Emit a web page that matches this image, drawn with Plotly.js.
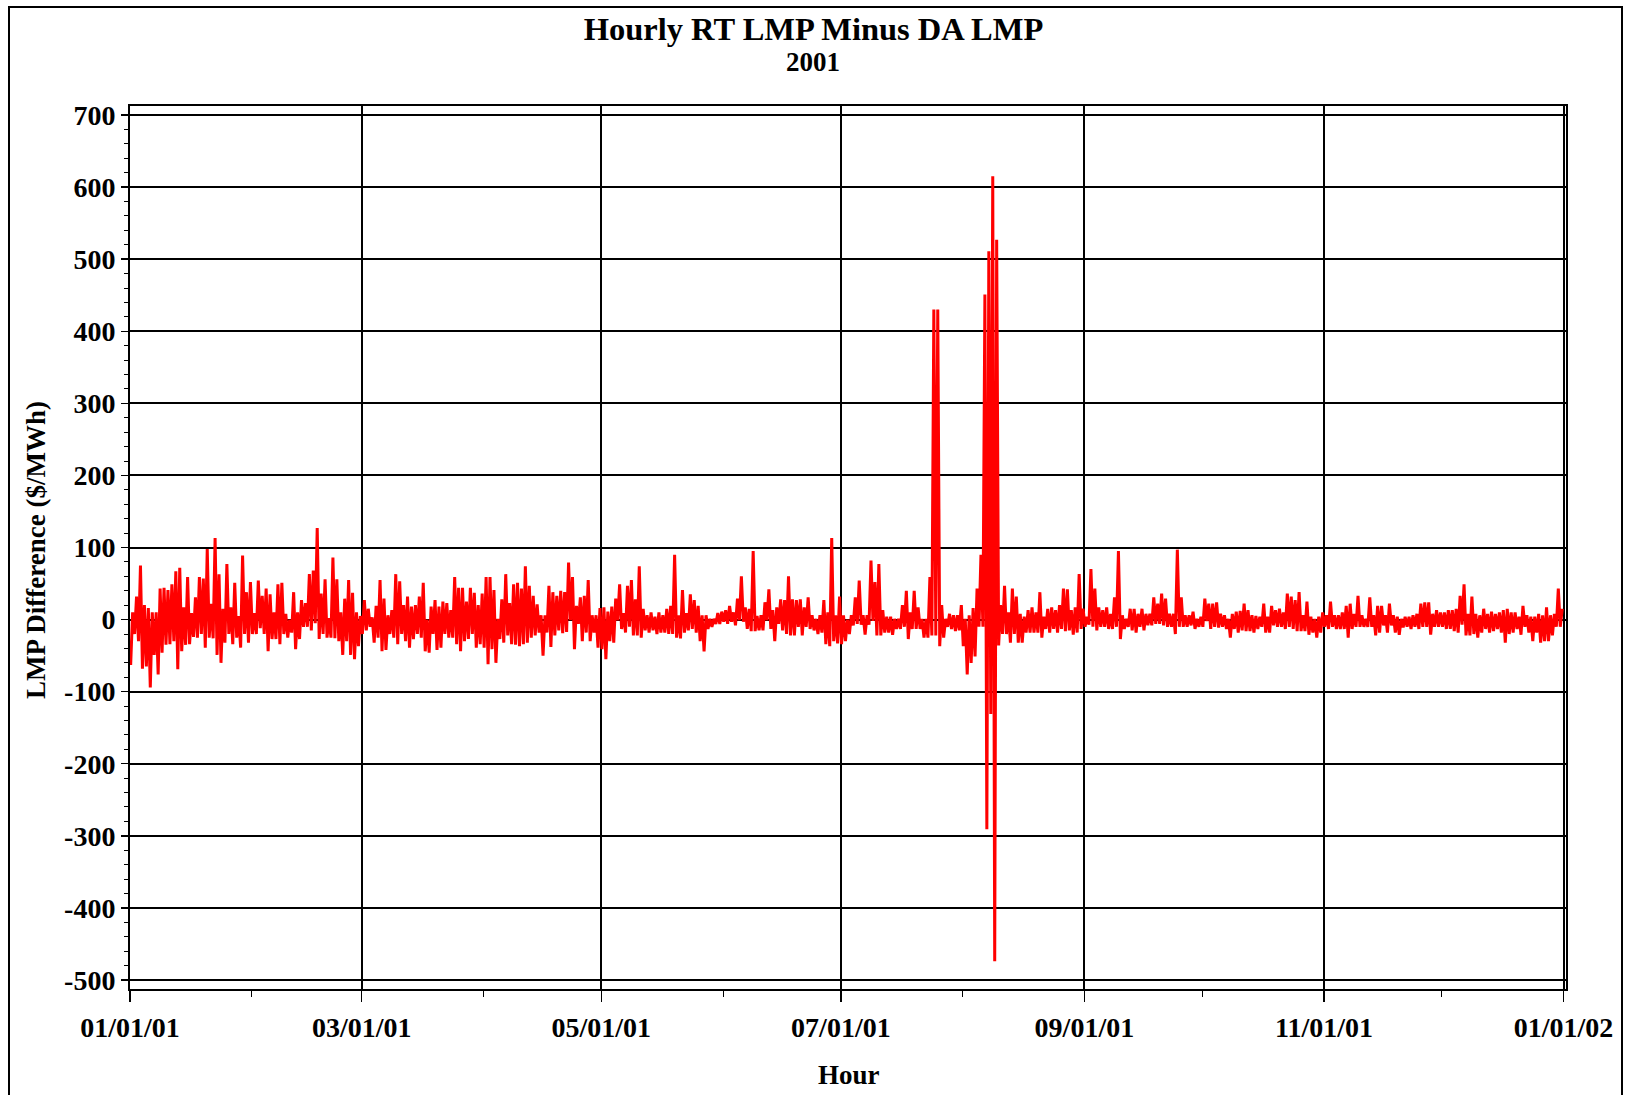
<!DOCTYPE html>
<html>
<head>
<meta charset="utf-8">
<script src="https://cdn.plot.ly/plotly-3.0.1.min.js"></script>
<style>
  html, body { margin: 0; padding: 0; background: #fff; }
  #chart { width: 1627px; height: 1095px; }
</style>
</head>
<body>
<div id="chart"></div>
<script>
// Daily high / low of hourly RT LMP minus DA LMP ($/MWh).
// Days 0-91 (Jan 1 - Apr 2)
const hiQ1 = [10,32,75,20,16,10,10,43,44,41,
  49,67,72,17,59,9,31,59,57,98,
  22,113,63,15,77,17,51,5,89,38,
  52,9,54,33,43,35,10,49,51,8,
  0,38,10,27,23,63,68,127,36,56,
  2,86,56,10,29,55,37,10,5,27,
  15,3,19,55,29,6,13,63,53,20,
  32,18,20,32,51,0,18,27,18,25,
  23,13,59,44,44,25,44,37,20,36,
  59,59];
const loQ1 = [-63,-20,-30,-68,-65,-94,-49,-76,-46,-35,
  -34,-30,-69,-44,-35,-34,-24,-25,-20,-39,
  -25,-26,-49,-60,-32,-20,-34,-25,-39,-20,
  -32,-20,-20,-12,-20,-44,-27,-27,-34,-20,
  -25,-18,-41,-27,-10,-10,-15,-5,-27,-20,
  -25,-25,-26,-30,-49,-30,-49,-55,-37,-20,
  -15,-10,-32,-25,-44,-42,-20,-25,-34,-20,
  -30,-39,-27,-20,-25,-44,-46,-20,-42,-39,
  -20,-25,-25,-34,-44,-30,-27,-20,-39,-34,
  -39,-62];
// Days 92-183
const hiQ2 = [41,1,28,63,23,49,51,43,74,47,
  33,21,6,6,47,38,33,40,38,79,
  59,19,31,33,55,6,6,16,17,11,
  18,29,49,9,47,55,28,74,15,6,
  10,4,10,6,15,19,90,6,41,9,
  35,27,19,6,6,1,1,9,11,13,
  19,10,29,60,17,15,95,5,6,24,
  42,13,17,28,27,60,28,27,28,17,
  31,6,1,6,27,10,113,6,32,6,
  0,6];
const loQ2 = [-41,-60,-27,-32,-22,-34,-35,-37,-34,-32,
  -25,-22,-18,-50,-18,-38,-22,-15,-19,-17,
  -1,-41,-6,-30,-18,-30,-18,-39,-41,-55,
  -30,-32,-1,-13,-18,-10,-22,-22,-25,-15,
  -18,-15,-20,-18,-18,-20,-20,-25,-26,-18,
  -15,-13,-18,-30,-44,-13,-10,-6,-6,-3,
  -6,-3,-8,-1,-3,-13,-16,-16,-15,-15,
  -1,-13,-30,-6,-15,-20,-22,-22,-10,-22,
  -10,-13,-15,-20,-18,-34,-37,-30,-33,-34,
  -30,-20];
// Days 184-274
const hiQ3 = [31,54,6,6,82,52,77,13,4,4,
  1,1,20,40,10,40,17,1,1,59,
  430,430,20,1,8,6,6,20,1,6,
  16,43,90,451,511,615,527,20,47,10,
  43,32,8,4,13,17,10,38,4,15,
  17,13,20,43,42,13,17,63,15,4,
  70,43,17,13,17,8,31,95,6,1,
  15,15,8,15,8,8,31,22,36,29,
  8,8,97,31,6,6,11,1,4,29,
  22];
const loQ3 = [-8,-6,-7,-21,-7,-2,-22,-22,-18,-18,
  -21,-13,-13,-10,-27,-13,-13,-13,-25,-25,
  -22,-22,-37,-25,-10,-13,-16,-15,-37,-76,
  -60,-51,-10,-10,-291,-131,-474,-36,-20,-20,
  -32,-20,-32,-32,-18,-18,-18,-18,-25,-13,
  -18,-13,-18,-13,-16,-15,-21,-18,-13,-10,
  -7,-10,-15,-10,-10,-13,-13,-10,-27,-13,
  -10,-15,-18,-10,-15,-8,-8,-6,-6,-8,
  -10,-10,-20,-10,-10,-10,-8,-13,-10,-10,
  -2];
// Days 275-364
const hiQ4 = [22,24,8,6,1,8,11,12,22,13,
  6,5,4,22,4,19,13,15,10,36,
  32,27,38,6,25,4,1,4,10,6,
  25,6,6,10,19,22,8,33,6,1,
  31,6,19,19,6,22,6,4,1,4,
  4,6,8,22,24,24,8,13,10,10,
  13,13,15,33,49,8,32,8,6,15,
  8,11,8,10,13,15,10,10,4,19,
  6,4,4,8,6,17,6,8,43,15];
const loQ4 = [-13,-10,-11,-10,-13,-25,-13,-18,-15,-16,
  -16,-18,-13,-10,-18,-18,-8,-10,-10,-13,
  -10,-13,-16,-16,-16,-21,-18,-25,-18,-10,
  -13,-10,-13,-13,-13,-25,-13,-10,-10,-10,
  -10,-10,-22,-18,-8,-18,-8,-18,-21,-11,
  -10,-13,-10,-13,-10,-10,-21,-10,-10,-10,
  -13,-13,-16,-18,-7,-22,-22,-20,-25,-18,
  -13,-18,-16,-13,-18,-32,-20,-18,-13,-21,
  -10,-18,-30,-18,-32,-30,-30,-22,-10,-10];

// Axis tick values and labels
const yTickVals = [-500,-400,-300,-200,-100,0,100,200,300,400,500,600,700];
const yTickText = ['-500','-400','-300','-200','-100','0','100','200','300','400','500','600','700'];
const xTickVals = ['2001-01-01','2001-03-01','2001-05-01','2001-07-01','2001-09-01','2001-11-01','2002-01-01'];
const xTickText = ['01/01/01','03/01/01','05/01/01','07/01/01','09/01/01','11/01/01','01/01/02'];

const yearStart = Date.UTC(2001, 0, 1);
const hi = hiQ1.concat(hiQ2, hiQ3, hiQ4);
const lo = loQ1.concat(loQ2, loQ3, loQ4);

function stamp(day, hour) {
  const d = new Date(yearStart + (day * 24 + hour) * 3600 * 1000);
  return d.toISOString().slice(0, 19).replace('T', ' ');
}

const xs = [], ys = [];
for (let d = 0; d < hi.length; d++) {
  xs.push(stamp(d, 4));  ys.push(lo[d]);
  xs.push(stamp(d, 16)); ys.push(hi[d]);
}

const FONT = "'Liberation Serif', 'Times New Roman', Times, serif";

const trace = {
  type: 'scatter',
  mode: 'lines',
  x: xs,
  y: ys,
  line: { color: '#ff0000', width: 3 },
  hoverinfo: 'skip'
};

// pixel helpers for paper coordinates
const L = 130, R = 1566, T = 106, B = 989;
const px = v => (v - L) / (R - L);
const py = v => (B - v) / (B - T);

const layout = {
  width: 1627,
  height: 1095,
  margin: { l: L, r: 1627 - R, t: T, b: 1095 - B, pad: 0 },
  paper_bgcolor: '#ffffff',
  plot_bgcolor: '#ffffff',
  showlegend: false,
  font: { family: FONT, size: 27, color: '#000', weight: 700 },
  title: {
    text: 'Hourly RT LMP Minus DA LMP',
    font: { family: FONT, size: 32.5, color: '#000', weight: 700 },
    x: 0.5, xref: 'container', xanchor: 'center',
    y: 1 - 29 / 1095, yref: 'container', yanchor: 'middle'
  },
  xaxis: {
    type: 'date',
    range: ['2001-01-01 00:00:00', '2002-01-01 15:00:00'],
    tickmode: 'array',
    tickvals: xTickVals,
    ticktext: xTickText,
    ticks: 'outside',
    ticklen: 11,
    tickwidth: 1.5,
    tickcolor: '#000',
    ticklabelstandoff: 1,
    tickfont: { family: FONT, size: 28, color: '#000', weight: 700 },
    showgrid: true,
    gridcolor: '#000',
    gridwidth: 2,
    showline: true,
    linecolor: '#000',
    linewidth: 2,
    mirror: true,
    zeroline: false,
    minor: { dtick: 'M1', tick0: '2001-01-01', ticks: 'outside', ticklen: 6, tickcolor: '#000', tickwidth: 1, showgrid: false }
  },
  yaxis: {
    range: [-512.5, 712.5],
    tickmode: 'array',
    tickvals: yTickVals,
    ticktext: yTickText,
    ticks: 'outside',
    ticklen: 7,
    tickwidth: 1.5,
    tickcolor: '#000',
    tickfont: { family: FONT, size: 28, color: '#000', weight: 700 },
    showgrid: true,
    gridcolor: '#000',
    gridwidth: 2,
    showline: true,
    linecolor: '#000',
    linewidth: 2,
    mirror: true,
    zeroline: true,
    zerolinecolor: '#000',
    zerolinewidth: 2,
    minor: { dtick: 20, tick0: 0, ticks: 'outside', ticklen: 4, tickcolor: '#000', tickwidth: 1, showgrid: false }
  },
  annotations: [
    { text: '2001', xref: 'paper', yref: 'paper', x: px(813), y: py(62),
      xanchor: 'center', yanchor: 'middle', showarrow: false,
      font: { family: FONT, size: 27, color: '#000', weight: 700 } },
    { text: 'LMP Difference ($/MWh)', xref: 'paper', yref: 'paper', x: px(36), y: py(550),
      xanchor: 'center', yanchor: 'middle', showarrow: false, textangle: -90,
      font: { family: FONT, size: 27, color: '#000', weight: 700 } },
    { text: 'Hour', xref: 'paper', yref: 'paper', x: px(849), y: py(1075),
      xanchor: 'center', yanchor: 'middle', showarrow: false,
      font: { family: FONT, size: 27, color: '#000', weight: 700 } }
  ],
  shapes: [
    { type: 'rect', xref: 'paper', yref: 'paper', x0: px(9), x1: px(1622), y0: py(1110), y1: py(7),
      line: { color: '#000', width: 2 }, fillcolor: 'rgba(0,0,0,0)', layer: 'above' }
  ]
};

Plotly.newPlot('chart', [trace], layout, { displayModeBar: false, staticPlot: true });
</script>
</body>
</html>
